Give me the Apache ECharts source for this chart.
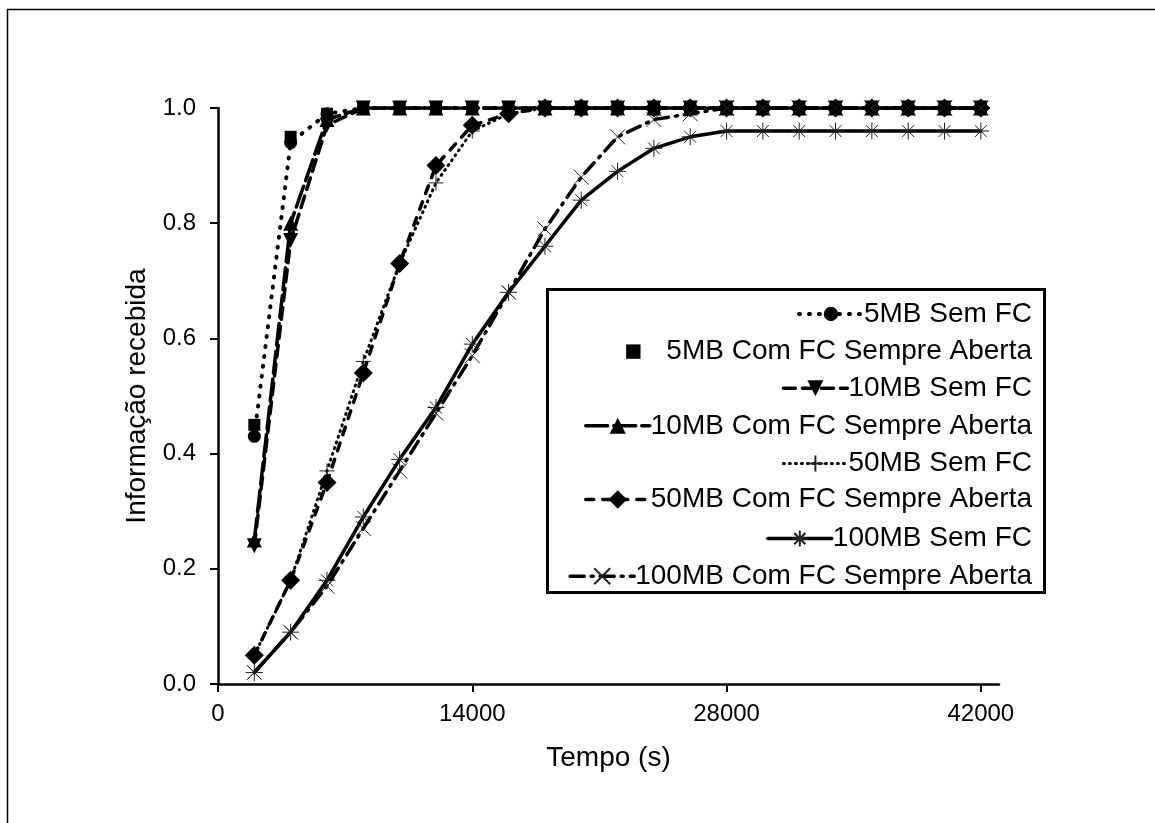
<!DOCTYPE html>
<html>
<head>
<meta charset="utf-8">
<title>Informação recebida</title>
<script src="https://cdn.jsdelivr.net/npm/echarts@6/dist/echarts.min.js"></script>
<style>
html,body{margin:0;padding:0;background:#fff;}
#chart{width:1155px;height:823px;}
</style>
</head>
<body>
<div id="chart"></div>
<script>
// tempo (s)
var tempo = [2000,4000,6000,8000,10000,12000,14000,16000,18000,20000,22000,24000,26000,28000,30000,32000,34000,36000,38000,40000,42000];
var xTicks = [0,14000,28000,42000];

var mb5Sem    = [0.43,0.94,0.99,1.0,1.0,1.0,1.0,1.0,1.0,1.0,1.0,1.0,1.0,1.0,1.0,1.0,1.0,1.0,1.0,1.0,1.0];
var mb5Com    = [0.45,0.95,0.99,1.0,1.0,1.0,1.0,1.0,1.0,1.0,1.0,1.0,1.0,1.0,1.0,1.0,1.0,1.0,1.0,1.0,1.0];
var mb10Sem   = [0.24,0.77,0.97,1.0,1.0,1.0,1.0,1.0,1.0,1.0,1.0,1.0,1.0,1.0,1.0,1.0,1.0,1.0,1.0,1.0,1.0];
var mb10Com   = [0.25,0.80,0.98,1.0,1.0,1.0,1.0,1.0,1.0,1.0,1.0,1.0,1.0,1.0,1.0,1.0,1.0,1.0,1.0,1.0,1.0];
var mb50Sem   = [0.05,0.18,0.37,0.56,0.73,0.87,0.96,0.99,1.0,1.0,1.0,1.0,1.0,1.0,1.0,1.0,1.0,1.0,1.0,1.0,1.0];
var mb50Com   = [0.05,0.18,0.35,0.54,0.73,0.90,0.97,0.99,1.0,1.0,1.0,1.0,1.0,1.0,1.0,1.0,1.0,1.0,1.0,1.0,1.0];
var mb100Sem  = [0.02,0.09,0.18,0.29,0.39,0.48,0.59,0.68,0.76,0.84,0.89,0.93,0.95,0.96,0.96,0.96,0.96,0.96,0.96,0.96,0.96];
var mb100Com  = [0.02,0.09,0.17,0.27,0.37,0.47,0.57,0.68,0.79,0.88,0.95,0.98,0.99,1.0,1.0,1.0,1.0,1.0,1.0,1.0,1.0];

var nomes = ['5MB Sem FC','5MB Com FC Sempre Aberta','10MB Sem FC','10MB Com FC Sempre Aberta',
             '50MB Sem FC','50MB Com FC Sempre Aberta','100MB Sem FC','100MB Com FC Sempre Aberta'];

function pares(ys){
	var out=[];
	for(var i=0;i<tempo.length;i++){ out.push([tempo[i],ys[i]]); }
	return out;
}

var FONT = '"Liberation Sans", Arial, sans-serif';
var asterisco = 'path://M0,5L10,5M5,0L5,10M1.5,1.5L8.5,8.5M8.5,1.5L1.5,8.5';
var cruz = 'path://M0,0L10,10M10,0L0,10';
var mais = 'path://M0,5L10,5M5,0L5,10';

function serie(nome, ys, simbolo, tam, tipo, largura, fino){
	var s = {
		name: nome,
		type: 'line',
		data: pares(ys),
		symbol: simbolo,
		symbolSize: tam,
		showSymbol: true,
		clip: true,
		animation: false,
		lineStyle: {color:'#000', width: largura, type: tipo, cap: 'round'},
		itemStyle: {color:'#000'}
	};
	if(fino){
		s.itemStyle = {color:'none', borderColor:'#222', borderWidth:1};
	}
	return s;
}

var series = [
	serie(nomes[0], mb5Sem, 'circle', 13, [1,9], 4),
	serie(nomes[1], mb5Com, 'rect', 12, 'solid', 0),
	serie(nomes[2], mb10Sem, 'triangle', 15, [12,7], 3.5),
	serie(nomes[3], mb10Com, 'triangle', 15, [22,6], 3.5),
	serie(nomes[4], mb50Sem, mais, 15, [1,5], 3, true),
	serie(nomes[5], mb50Com, 'diamond', 19, [8,9], 3.5),
	serie(nomes[6], mb100Sem, asterisco, 17, 'solid', 3.5, true),
	serie(nomes[7], mb100Com, cruz, 15, [14,7,2,7], 3.5, true)
];
series[2].symbolRotate = 180;
series[1].lineStyle.opacity = 0;

// legend symbol is 0.8 * itemHeight
var legAltura = [18, 18, 20, 20, 20, 23, 20, 20];

// one legend per item so the rows line up on the right
var legendas = [];
for(var i=0;i<nomes.length;i++){
	legendas.push({
		data:[nomes[i]],
		right: 118,
		top: 296 + i*37.6 - (legAltura[i]-16)/2,
		itemWidth: 64,
		itemHeight: legAltura[i],
		itemGap: 0,
		selectedMode: false,
		lineStyle: {width: series[i].lineStyle.width},
		textStyle: {fontFamily: FONT, fontSize: 28, color:'#000', padding:[0,0,0,-4]}
	});
}

var chart = echarts.init(document.getElementById('chart'));
var option = {
	backgroundColor: '#fff',
	animation: false,
	grid: {left: 218, right: 156, top: 108, bottom: 139, containLabel: false},
	legend: legendas,
	xAxis: {
		type: 'value',
		min: 0,
		max: 43000,
		interval: 14000,
		name: 'Tempo (s)',
		nameLocation: 'middle',
		nameGap: 60,
		nameTextStyle: {fontFamily: FONT, fontSize: 28, color:'#000'},
		axisLine: {show:true, lineStyle:{color:'#000', width:2.5}},
		axisTick: {show:true, length:8, lineStyle:{color:'#000', width:2}, customValues: xTicks},
		axisLabel: {fontFamily: FONT, fontSize: 24, color:'#000', margin: 18, customValues: xTicks,
			formatter: function(v){ return String(v); }},
		splitLine: {show:false}
	},
	yAxis: {
		type: 'value',
		min: 0,
		max: 1,
		interval: 0.2,
		name: 'Informação recebida',
		nameLocation: 'middle',
		nameGap: 66,
		nameTextStyle: {fontFamily: FONT, fontSize: 28, color:'#000'},
		axisLine: {show:true, lineStyle:{color:'#000', width:2.5}},
		axisTick: {show:true, length:8, lineStyle:{color:'#000', width:2}},
		axisLabel: {fontFamily: FONT, fontSize: 24, color:'#000', margin: 22,
			formatter: function(v){ return v.toFixed(1); }},
		splitLine: {show:false}
	},
	graphic: [
		{type:'rect', left: 5, top: 7, shape:{width:1300, height:1000},
		 style:{fill:'none', stroke:'#000', lineWidth:1.5}, silent:true},
		{type:'rect', left: 545, top: 287, shape:{width:497, height:303},
		 style:{fill:'none', stroke:'#000', lineWidth:3}, silent:true, z: 10}
	],
	series: series
};
chart.setOption(option);
</script>
</body>
</html>
